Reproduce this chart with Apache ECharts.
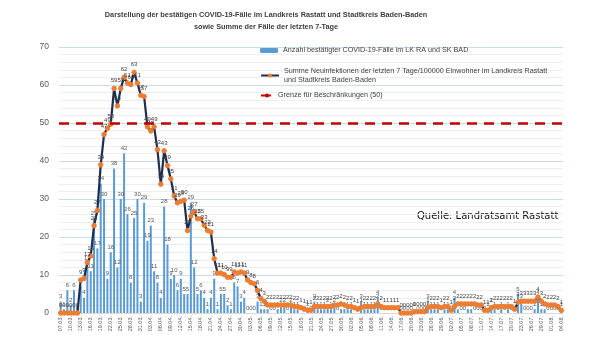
<!DOCTYPE html>
<html><head><meta charset="utf-8">
<script src="https://cdn.jsdelivr.net/npm/echarts@6/dist/echarts.min.js"></script>
<style>html,body{margin:0;padding:0;background:#fff}#c{width:608px;height:342px}</style>
</head><body><div id="c"></div>
<script>
const dates = [
'07.03.','08.03.','09.03.','10.03.','11.03.','12.03.','13.03.','14.03.','15.03.','16.03.','17.03.','18.03.','19.03.','20.03.','21.03.','22.03.','23.03.','24.03.','25.03.','26.03.','27.03.','28.03.','29.03.','30.03.','31.03.',
'01.04.','02.04.','03.04.','04.04.','05.04.','06.04.','07.04.','08.04.','09.04.','10.04.','11.04.','12.04.','13.04.','14.04.','15.04.','16.04.','17.04.','18.04.','19.04.','20.04.','21.04.','22.04.','23.04.','24.04.','25.04.','26.04.','27.04.','28.04.','29.04.','30.04.',
'01.05.','02.05.','03.05.','04.05.','05.05.','06.05.','07.05.','08.05.','09.05.','10.05.','11.05.','12.05.','13.05.','14.05.','15.05.','16.05.','17.05.','18.05.','19.05.','20.05.','21.05.','22.05.','23.05.','24.05.','25.05.','26.05.','27.05.','28.05.','29.05.','30.05.','31.05.',
'01.06.','02.06.','03.06.','04.06.','05.06.','06.06.','07.06.','08.06.','09.06.','10.06.','11.06.','12.06.','13.06.','14.06.','15.06.','16.06.','17.06.','18.06.','19.06.','20.06.','21.06.','22.06.','23.06.','24.06.','25.06.','26.06.','27.06.','28.06.','29.06.','30.06.',
'01.07.','02.07.','03.07.','04.07.','05.07.','06.07.','07.07.','08.07.','09.07.','10.07.','11.07.','12.07.','13.07.','14.07.','15.07.','16.07.','17.07.','18.07.','19.07.','20.07.','21.07.','22.07.','23.07.','24.07.','25.07.','26.07.','27.07.','28.07.','29.07.','30.07.','31.07.',
'01.08.','02.08.','03.08.','04.08.'
];
const dailyCases = [
3,1,6,2,6,0,7,4,13,11,
25,17,34,30,9,16,38,12,30,42,
26,8,25,30,3,29,19,23,11,8,
4,28,18,9,10,6,9,5,5,29,
12,5,6,4,1,4,9,1,5,5,
2,1,8,7,3,4,0,0,0,3,
1,1,1,0,0,1,2,2,0,2,
1,1,0,0,1,0,3,1,1,1,
2,1,2,0,1,1,1,1,0,0,
3,1,1,1,1,4,0,0,0,0,
0,0,0,0,0,0,1,0,0,0,
3,1,1,1,0,1,1,0,4,1,
0,0,1,1,0,0,0,0,1,2,
1,0,1,0,1,0,0,5,3,0,
0,0,1,4,1,1,0,0,0,0,
1
];
const sevenDayIncidence = [
0,0,0,0,0,0,8.7,9.1,13.3,15,
23,27,39,47,48.6,49.7,59.1,54.5,59.1,62,
60.5,60.1,63.3,60.5,57.3,57,49,47.9,49,43,
33.9,42.7,38.8,35.3,30.8,29,29.4,29.7,21.7,25.5,
26.6,24.8,24.8,23.1,21.7,21.3,14.3,10.5,10.5,10.1,
9.4,9.4,10.8,10.5,10.8,10.5,8.7,8.0,7.7,5.9,
3.8,3.1,2.1,2.1,2.1,2.1,2.1,2.1,2.1,2.1,
1.7,1.7,1.4,1,0.8,0.7,1.7,1.7,1.7,1.7,
1.7,1.7,2.1,2.1,2.4,2.1,1.7,1.7,1.4,1,
1.4,1.7,1.7,1.7,1.7,2.4,1.7,1.4,1.4,1.4,
1.4,1.4,0,0,0,0,0.35,0.35,0.35,0.35,
1.4,1.7,1.7,1.7,1.4,1.7,1.7,0.7,1.7,2.4,
2.4,2.4,2.4,2.4,2.4,2.1,2.1,0.7,0.7,1.4,
1.7,1.7,1.7,1.7,1.7,1.7,1,2.8,3.1,3.1,
3.1,3.1,3.1,4.2,3.1,2.4,2.1,2.1,2.1,1.7,
0.7
];
const limitValue = 50;
const yMin = 0, yMax = 70, yStep = 10;

const nameBars = 'Anzahl bestätigter COVID-19-Fälle im LK RA und SK BAD';
const nameLine = 'Summe Neuinfektionen der letzten 7 Tage/100000 Einwohner im Landkreis Rastatt und Stadtkreis Baden-Baden';
const nameLimit = 'Grenze für Beschränkungen (50)';
const FF = '"Liberation Sans",sans-serif';

const chart = echarts.init(document.getElementById('c'), null, {renderer:'canvas'});
chart.setOption({
  animation: false,
  backgroundColor: '#fff',
  title: {
    text: 'Darstellung der bestätigen COVID-19-Fälle im Landkreis Rastatt und Stadtkreis Baden-Baden\nsowie Summe der Fälle der letzten 7-Tage',
    left: 261, top: 4, textAlign: 'center',
    textStyle: {fontFamily: FF, fontSize: 7.3, fontWeight: 'bold', color: '#404040', lineHeight: 12}
  },
  legend: [
    {data: [nameBars], left: 255, top: 42, orient: 'vertical', itemWidth: 18, itemHeight: 5, itemGap: 3,
     textStyle: {fontFamily: FF, fontSize: 7.2, color: '#404040'}},
    {data: [nameLine], left: 255, top: 61, orient: 'vertical', itemWidth: 18, itemHeight: 5,
     formatter: () => 'Summe Neuinfektionen der letzten 7 Tage/100000 Einwohner im Landkreis Rastatt\nund Stadtkreis Baden-Baden',
     textStyle: {fontFamily: FF, fontSize: 7.2, color: '#404040', lineHeight: 9.5}},
    {data: [nameLimit], left: 255, top: 87, orient: 'vertical', itemWidth: 12, itemHeight: 5,
     textStyle: {fontFamily: FF, fontSize: 7.2, color: '#404040'}}
  ],
  grid: {left: 59, right: 45, top: 47, bottom: 29, containLabel: false},
  xAxis: {
    type: 'category', data: dates, boundaryGap: true,
    axisLine: {show: true, lineStyle: {color: '#d9d9d9'}},
    axisTick: {show: false},
    axisLabel: {interval: 2, rotate: 90, fontSize: 5.5, color: '#595959', margin: 3, fontFamily: FF}
  },
  yAxis: {
    type: 'value', min: yMin, max: yMax, interval: yStep,
    axisLine: {show: false}, axisTick: {show: false},
    axisLabel: {fontSize: 8.5, color: '#595959', margin: 10, fontFamily: FF},
    splitLine: {show: true, lineStyle: {color: '#c9dcef', width: 1}},
    minorTick: {show: false, splitNumber: 5},
    minorSplitLine: {show: true, lineStyle: {color: '#eeeeee', width: 1}}
  },
  series: [
    {
      name: nameBars, type: 'bar', data: dailyCases, barWidth: 2,
      itemStyle: {color: '#5b9bd5'},
      label: {show: true, position: 'top', fontSize: 6, color: '#595959', distance: 2, fontFamily: FF}
    },
    {
      name: nameLine, type: 'line', data: sevenDayIncidence,
      showAllSymbol: true,
      lineStyle: {color: '#1f2d4f', width: 2.2},
      symbol: 'circle', symbolSize: 4.5,
      itemStyle: {color: '#ed7d31', borderColor: '#ed7d31'},
      label: {show: true, position: 'top', fontSize: 6, color: '#404040', distance: 2, fontFamily: FF,
              formatter: p => Math.round(p.value)},
      z: 3
    },
    {
      name: nameLimit, type: 'line', data: [],
      symbol: 'none',
      itemStyle: {color: '#c00000'},
      lineStyle: {color: '#c00000', width: 2.5, type: [10, 7]},
      markLine: {
        silent: true, symbol: 'none', label: {show: false},
        lineStyle: {color: '#c00000', width: 2.5, type: [10, 7]},
        data: [{yAxis: limitValue}]
      },
      z: 4
    }
  ],
  graphic: [
    {type: 'text', left: 417, top: 211, style: {text: 'Quelle: Landratsamt Rastatt', font: '10px "DejaVu Sans"', fill: '#111'}}
  ]
});
</script></body></html>
